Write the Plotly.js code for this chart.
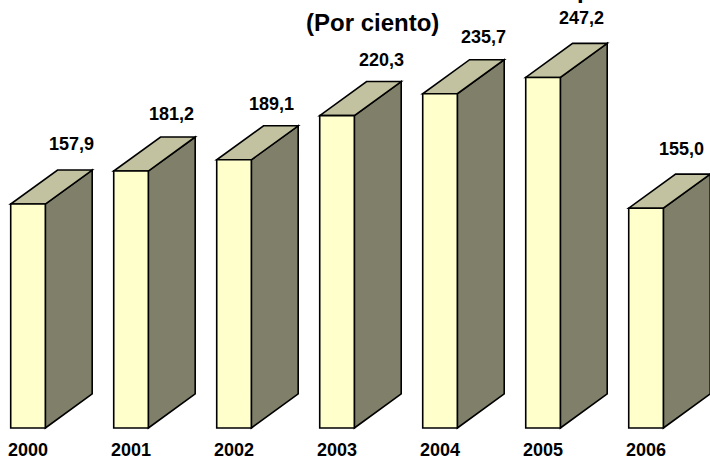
<!DOCTYPE html>
<html>
<head>
<meta charset="utf-8">
<script src="https://cdn.plot.ly/plotly-3.0.1.min.js"></script>
<style>html,body{margin:0;padding:0;background:#fff}#chart{width:710px;height:458px}</style>
</head>
<body>
<div id="chart"></div>
<script>
const years = ["2000","2001","2002","2003","2004","2005","2006"];
const values = [157.9, 181.2, 189.1, 220.3, 235.7, 247.2, 155.0];
const valueLabels = ["157,9","181,2","189,1","220,3","235,7","247,2","155,0"];
const titleText = "<b>(Por ciento)</b>";
const cutTitleFragment = "<b>p</b>";

// label placement (pixels), as hand-placed in the original chart
const labelDx = [43.5, 40.5, 37.5, 44.5, 43.5, 38, 35];
const labelDy = [14, 11, 10, 10, 11, 13, 13];

const halfW = 0.168;   // half width of front face (category units)
const depthX = 0.455;  // 3D depth offset in x (category units)
const depthY = 24;     // 3D depth offset in y (value units)
const frontColor = "#FFFFCC";
const sideColor = "#80806A";
const topColor = "#C2C2A0";
const edge = {color: "#000000", width: 1.6};
const font = "Liberation Sans, Arial, sans-serif";

const shapes = [];
const annotations = [];
const p = pts => "M " + pts.map(q => q[0] + "," + q[1]).join(" L ") + " Z";
years.forEach((yr, i) => {
  const v = values[i];
  const x0 = i - halfW, x1 = i + halfW;
  shapes.push({type: "path", xref: "x", yref: "y", fillcolor: sideColor, line: edge,
    path: p([[x1, 0], [x1 + depthX, depthY], [x1 + depthX, v + depthY], [x1, v]])});
  shapes.push({type: "path", xref: "x", yref: "y", fillcolor: topColor, line: edge,
    path: p([[x0, v], [x1, v], [x1 + depthX, v + depthY], [x0 + depthX, v + depthY]])});
  shapes.push({type: "path", xref: "x", yref: "y", fillcolor: frontColor, line: edge,
    path: p([[x0, 0], [x1, 0], [x1, v], [x0, v]])});
  annotations.push({x: i, y: v + depthY, xref: "x", yref: "y", text: "<b>" + valueLabels[i] + "</b>",
    showarrow: false, yanchor: "bottom", xshift: labelDx[i], yshift: labelDy[i],
    font: {family: font, size: 18, color: "#000"}});
  annotations.push({x: i, y: 0, xref: "x", yref: "y", text: "<b>" + yr + "</b>",
    showarrow: false, yanchor: "middle", yshift: -22, font: {family: font, size: 18, color: "#000"}});
});
annotations.push({x: 372.5 / 710, y: 1 - 23 / 458, xref: "paper", yref: "paper", text: titleText, showarrow: false,
  xanchor: "center", yanchor: "middle", font: {family: font, size: 24, color: "#000"}});
annotations.push({x: 576 / 710, y: 1 - 4 / 458, xref: "paper", yref: "paper", text: cutTitleFragment, showarrow: false,
  xanchor: "left", yanchor: "bottom", borderpad: 0, font: {family: font, size: 24, color: "#000"}});

const layout = {
  width: 710, height: 458,
  margin: {l: 0, r: 0, t: 0, b: 0},
  paper_bgcolor: "#ffffff", plot_bgcolor: "#ffffff",
  showlegend: false,
  xaxis: {range: [-0.272, 6.621], visible: false, fixedrange: true},
  yaxis: {range: [-21.16, 301.8], visible: false, fixedrange: true},
  shapes: shapes,
  annotations: annotations
};
Plotly.newPlot("chart", [{x: [], y: [], type: "scatter", hoverinfo: "skip"}], layout, {staticPlot: true, displayModeBar: false});
</script>
</body>
</html>
